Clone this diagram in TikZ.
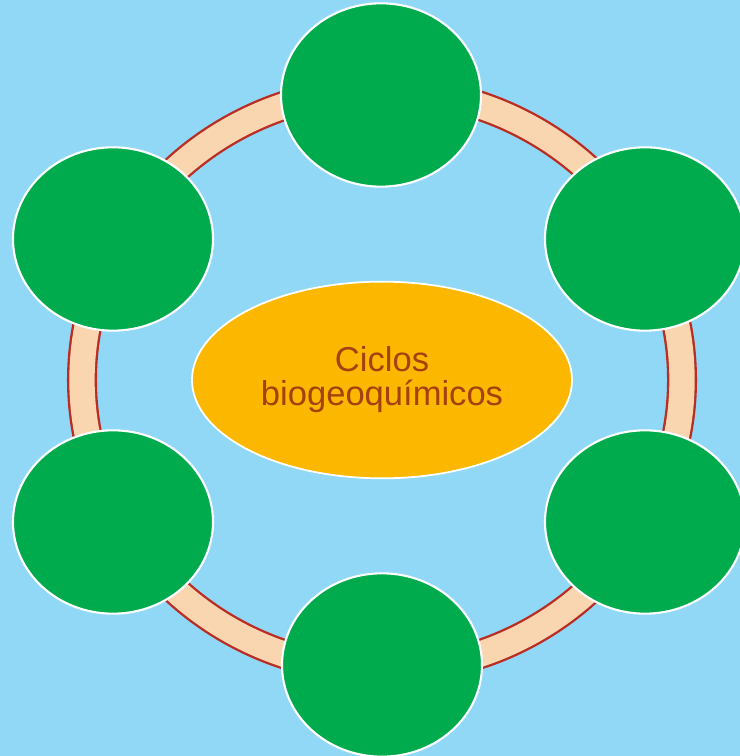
\documentclass[tikz,border=0pt]{standalone}
\usepackage{fontspec}
\newfontfamily\labelfont{Liberation Sans}
\usepackage{xcolor}
\usepackage{tikz}
\usetikzlibrary{shapes.geometric, positioning}
\definecolor{skyblue}{RGB}{145,216,247}
\definecolor{leafgreen}{RGB}{0,171,78}
\definecolor{sunorange}{RGB}{252,184,0}
\definecolor{ringpeach}{RGB}{250,214,176}
\definecolor{ringred}{RGB}{185,45,35}
\definecolor{textbrown}{RGB}{165,65,15}

\begin{document}
\begin{tikzpicture}[
        x=0.03cm, y=0.03cm,
        cyclenode/.style={ellipse, draw=white, fill=leafgreen, line width=1.8pt, minimum width=6cm, minimum height=5.5cm, inner sep=0pt},
        mainnode/.style={ellipse, draw=white, fill=sunorange, line width=1.5pt, minimum width=11.4cm, minimum height=5.9cm, inner sep=0pt, align=center, text=textbrown, font=\labelfont\fontsize{29.5}{29}\selectfont}
    ]
        \useasboundingbox (0,0) rectangle (740,756);
        \clip (0,0) rectangle (740,756);
        \fill[skyblue] (0,0) rectangle (740,756);

        % Centre
        \node[mainnode] (ciclos) at (382,376) {Ciclos\\biogeoqu\'imicos};

        % Ring behind the circles
        \draw[ringred, line width=0.9cm] ([yshift=0.0cm]ciclos.center) ellipse [x radius=9cm, y radius=8.7cm];
        \draw[ringpeach, line width=0.76cm] (ciclos.center) ellipse [x radius=9cm, y radius=8.7cm];

        % Outer circles
        \node[cyclenode] (c1) at (381,661) {};
        \node[cyclenode] (c2) at (645,517) {};
        \node[cyclenode] (c3) at (645,234) {};
        \node[cyclenode] (c4) at (382,91) {};
        \node[cyclenode] (c5) at (113,234) {};
        \node[cyclenode] (c6) at (113,517) {};
    \end{tikzpicture}
\end{document}
